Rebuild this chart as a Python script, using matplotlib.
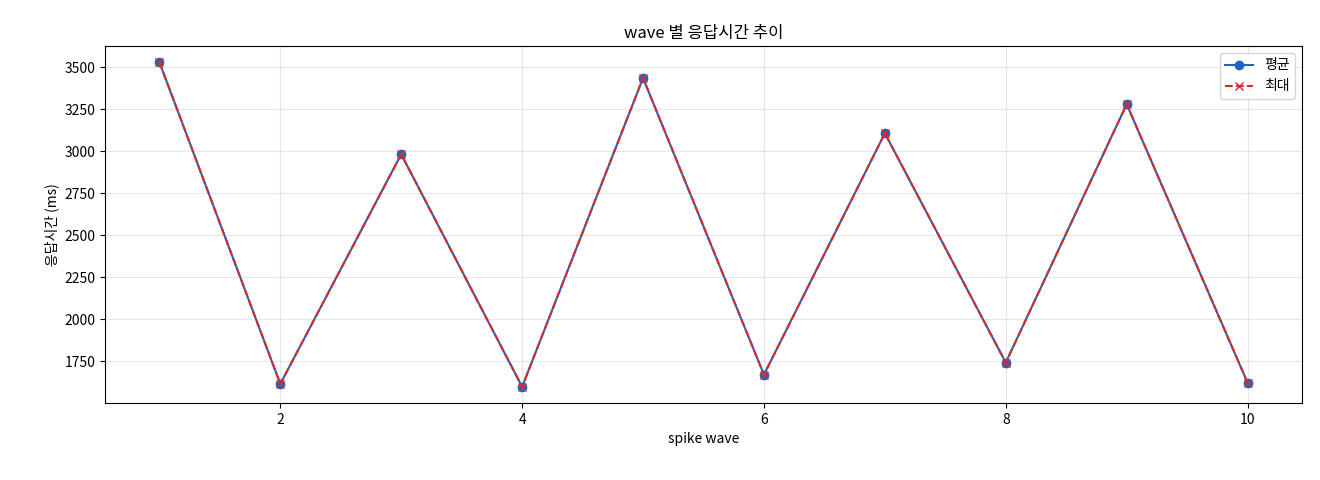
import matplotlib
matplotlib.use("Agg")
import matplotlib.pyplot as plt

plt.rcParams['font.family'] = ['Noto Sans CJK KR', 'DejaVu Sans']
plt.rcParams['axes.unicode_minus'] = False

waves = [1, 2, 3, 4, 5, 6, 7, 8, 9, 10]
avg_ms = [3530, 1615, 2982, 1598, 3436, 1670, 3107, 1742, 3280, 1622]
max_ms = [3530, 1615, 2982, 1598, 3436, 1670, 3107, 1742, 3280, 1622]

fig = plt.figure(figsize=(13.2, 4.8), dpi=100)
ax = fig.add_axes([105/1320, 1-403/480, (1302-105)/1320, (403-46)/480])
ax.plot(waves, avg_ms, marker='o', color='#1f66c1', label='평균', markersize=6)
ax.plot(waves, max_ms, marker='x', linestyle='--', color='#d62c2c', label='최대', markersize=6)
ax.set_title('wave 별 응답시간 추이', fontsize=12)
ax.set_xlabel('spike wave', fontsize=10)
ax.set_ylabel('응답시간 (ms)', fontsize=10)
ax.grid(True, alpha=0.3)
ax.legend(loc='upper right')
fig.savefig('out.png', dpi=100)
